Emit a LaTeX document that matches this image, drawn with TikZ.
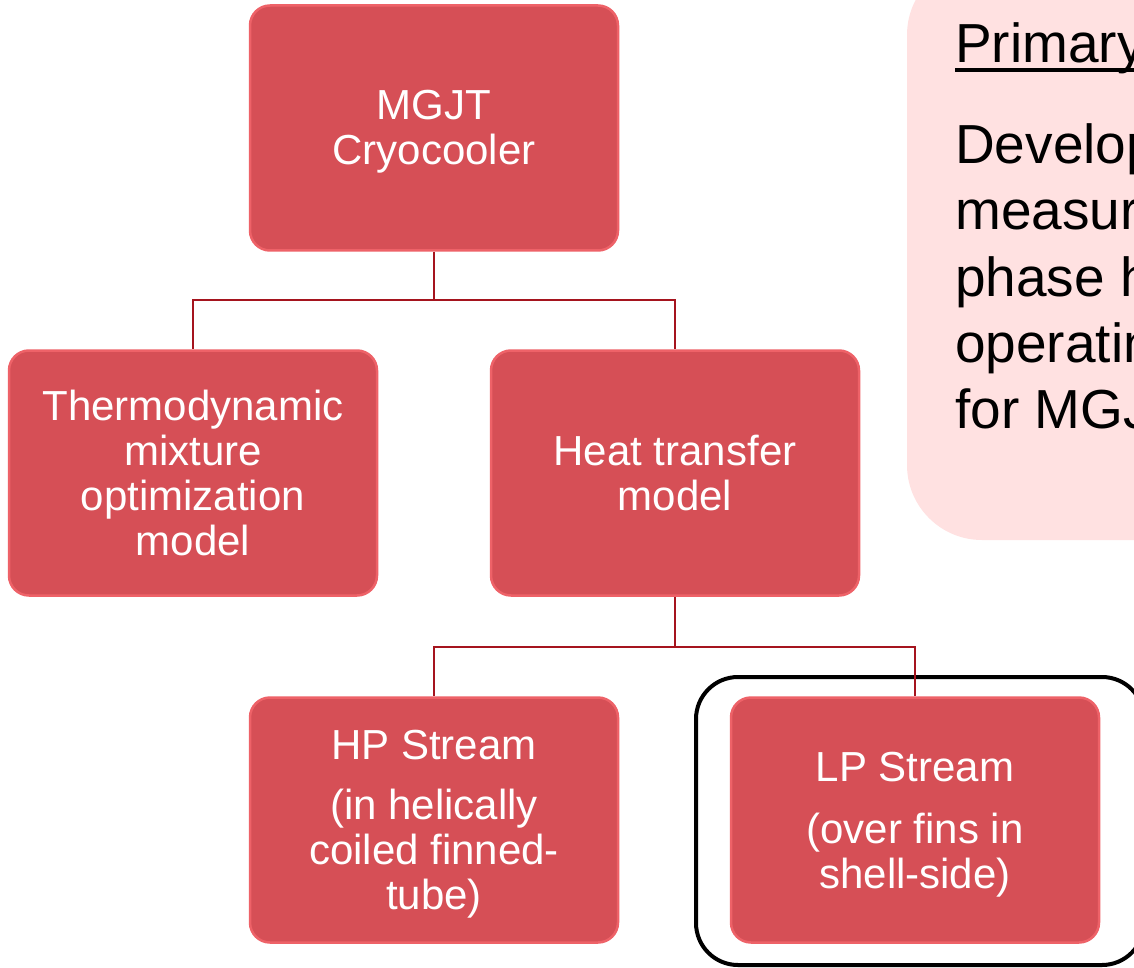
\documentclass[tikz,border=0pt]{standalone}
\usepackage{fontspec}
\setmainfont{Liberation Sans}
\definecolor{boxred}{RGB}{214,79,86}
\definecolor{boxedge}{RGB}{238,98,104}
\definecolor{linkred}{RGB}{165,20,30}
\definecolor{panelpink}{RGB}{255,225,225}
% tall strut that lowers a centred block of lines a little
\newcommand{\topstrut}[1]{\rule{0pt}{#1}}
\begin{document}
\begin{tikzpicture}[x=1pt,y=-1pt,
  redbox/.style={rectangle, rounded corners=20pt, inner sep=0pt,
    minimum width=368pt, minimum height=245pt,
    draw=boxedge, line width=2.5pt, fill=boxred,
    text=white, align=center, font=\fontsize{42}{45}\selectfont},
  link/.style={draw=linkred, line width=2pt},
  bodytext/.style={anchor=base west, inner sep=0pt, font=\fontsize{55}{66}\selectfont}
]
\useasboundingbox (0,0) rectangle (1134,968);
\clip (0,0) rectangle (1134,968);
\fill[white] (0,0) rectangle (1134,968);

% objective panel on the right
\fill[panelpink, rounded corners=75pt] (907,-40) rectangle (1260,540);
\node[bodytext] (prim) at (955,63) {Primary};
\draw[line width=3.2pt] ([yshift=-7pt]prim.base west) -- ([yshift=-7pt]prim.base east);
\node[bodytext] (l1) at (955,164) {Develop};
\node[bodytext] (l2) at (955,230) {measur};
\node[bodytext] (l3) at (955,296) {phase h};
\node[bodytext] (l4) at (955,362) {operatin};
\node[bodytext] (l5) at (955,428) {for MGJ};

% highlight frame around the shell-side stream
\node[draw=black, line width=4pt, rounded corners=42pt, minimum width=448pt,
  minimum height=288pt, inner sep=0pt] (frame) at (920,821) {};

% hierarchy boxes
\node[redbox] (mgjt) at (434,128) {\topstrut{37pt}MGJT\\Cryocooler};
\node[redbox] (thermo) at (193,473) {Thermodynamic\\mixture\\optimization\\model};
\node[redbox] (heat) at (675,473) {Heat transfer\\model};
\node[redbox] (hp) at (434,820) {\topstrut{38pt}HP Stream\\[15pt](in helically\\coiled finned-\\tube)};
\node[redbox] (lp) at (915,820) {\topstrut{39pt}LP Stream\\[17pt](over fins in\\shell-side)};

% connectors
\coordinate (j1) at (434,300);
\coordinate (j2) at (675,647);
\draw[link] (mgjt.south) -- (j1);
\draw[link] (j1) -| (thermo.north);
\draw[link] (j1) -| (heat.north);
\draw[link] (heat.south) -- (j2);
\draw[link] (j2) -| (hp.north);
\draw[link] (j2) -| (lp.north);
\end{tikzpicture}
\end{document}
